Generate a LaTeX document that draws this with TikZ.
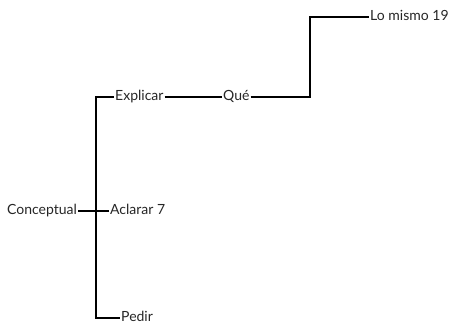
\documentclass[tikz,border=0pt]{standalone}
\usepackage{fontspec}
\setmainfont{Lato}
\begin{document}
\begin{tikzpicture}[x=1pt,y=1pt,
  topic/.style={inner xsep=1pt, inner ysep=0pt, anchor=west, text height=0.7em, text depth=0pt, font=\fontsize{14}{16}\selectfont, text=black!85},
  branch/.style={line width=1.3pt, black}]
\useasboundingbox (0,0) rectangle (456,334);
\node[topic] (concept) at (6,123) {Conceptual};
\node[topic] (explicar) at (114,237) {Explicar};
\node[topic] (aclarar) at (109,123) {Aclarar 7};
\node[topic] (pedir) at (120,16) {Pedir};
\node[topic] (que) at (222,237) {Qué};
\node[topic] (mismo) at (369,317) {Lo mismo 19};
\coordinate (trunk) at (96,123);
\coordinate (step2) at (310,237);
\draw[branch] (concept.east) -- (aclarar.west);
\draw[branch] (trunk) |- (explicar.west);
\draw[branch] (trunk) |- (pedir.west);
\draw[branch] (explicar.east) -- (que.west);
\draw[branch] (que.east) -- (step2) |- (mismo.west);
\end{tikzpicture}
\end{document}
